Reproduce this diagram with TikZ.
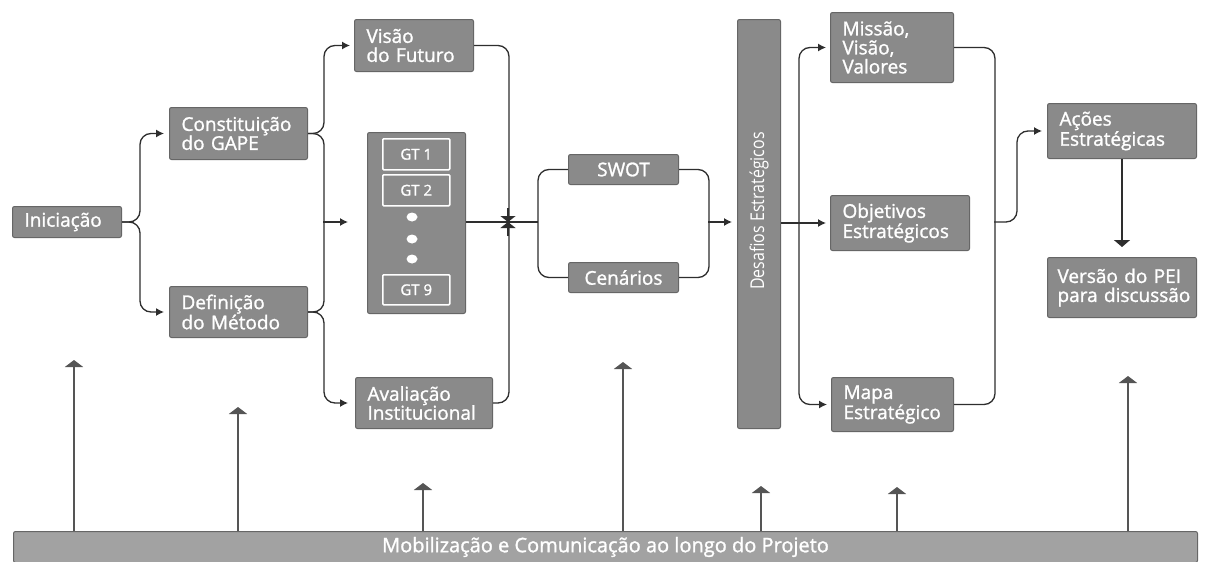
\documentclass[tikz,border=0pt]{standalone}
\usepackage{fontspec}
\setmainfont{Open Sans}[FakeBold=1.3]
\newfontfamily\narrowfont[FakeStretch=0.84]{Open Sans}
\usetikzlibrary{arrows.meta}
\definecolor{boxfill}{HTML}{8A8A8A}
\definecolor{boxedge}{HTML}{666666}
\definecolor{barfill}{HTML}{A2A2A2}
\definecolor{wire}{HTML}{2E2E2E}
\definecolor{upwire}{HTML}{555555}

\begin{document}
\begin{tikzpicture}[x=1pt,y=-1pt,
  box/.style={draw=boxedge, fill=boxfill, line width=1pt, rounded corners=2pt,
    text=white, font=\fontsize{19}{19}\selectfont, anchor=north west,
    inner xsep=12pt, inner ysep=0pt, align=left},
  gtcell/.style={draw=white, fill=boxfill, line width=1.5pt, rounded corners=1pt,
    text=white, font=\fontsize{15}{16}\selectfont, anchor=north west,
    minimum width=67pt, minimum height=31pt, inner sep=0pt},
  conn/.style={draw=wire, line width=1.3pt, rounded corners=11pt},
  tip/.style={-{Latex[length=8pt,width=8pt]}},
  meet/.style={draw=wire, line width=1.3pt, -{Triangle[width=15pt,length=6pt]}},
  up/.style={draw=upwire, line width=1.8pt, -{Triangle[width=18pt,length=7pt]}},
]
\useasboundingbox (0,0) rectangle (1207,562);
\fill[white] (0,0) rectangle (1207,562);

% ---- stage boxes ----
\node[box, minimum height=31pt, text width=85pt] (init) at (12,206) {Iniciação};
\node[box, minimum height=52pt, text width=114pt] (gape) at (169,107) {\mbox{Constituição}\\\mbox{do GAPE}};
\node[box, minimum height=51pt, text width=114pt] (metodo) at (169,286) {\mbox{Definição}\\\mbox{do Método}};
\node[box, minimum height=52pt, text width=95pt] (futuro) at (354,19) {\mbox{Visão}\\\mbox{do Futuro}};
\node[box, minimum height=51pt, text width=113pt] (aval) at (355,377) {\mbox{Avaliação}\\\mbox{Institucional}};

% working groups
\node[box, minimum width=98pt, minimum height=181pt, inner xsep=0pt] (gtbox) at (367,132) {};
\node[gtcell] (gt1) at (382,138) {GT 1};
\node[gtcell] (gt2) at (382,174) {GT 2};
\node[gtcell, minimum height=30pt] (gt9) at (382,274) {GT 9};
\fill[white] (412,217) ellipse [x radius=5.5pt, y radius=4.5pt];
\fill[white] (412,239) ellipse [x radius=5.5pt, y radius=4.5pt];
\fill[white] (412,259) ellipse [x radius=5.5pt, y radius=4.5pt];

\node[box, minimum width=110pt, minimum height=30pt, inner xsep=0pt, align=center] (swot) at (568,154) {SWOT};
\node[box, minimum width=110pt, minimum height=30pt, inner xsep=0pt, align=center] (cen) at (568,262) {Cenários};

\node[box, minimum width=43pt, minimum height=409pt, inner xsep=0pt] (desafios) at (737,19) {};
\node[rotate=90, text=white, inner sep=0pt, font=\narrowfont\fontsize{19}{19}\selectfont] (desafiostxt) at (759,211) {Desafios Estratégicos};

\node[box, minimum height=70pt, text width=99pt] (missao) at (830,12) {Missão,\\Visão,\\Valores};
\node[box, minimum height=55pt, text width=115pt] (obj) at (830,195) {\mbox{Objetivos}\\\mbox{Estratégicos}};
\node[box, minimum height=54pt, text width=98pt] (mapa) at (831,377) {\mbox{Mapa}\\\mbox{Estratégico}};
\node[box, minimum height=55pt, text width=125pt] (acoes) at (1047,103) {\mbox{Ações}\\\mbox{Estratégicas}};
\node[box, minimum height=60pt, inner xsep=10pt, text width=129pt] (versao) at (1047,257) {\mbox{Versão do PEI}\\\mbox{para discussão}};

\node[box, fill=barfill, minimum width=1184pt, minimum height=31pt, inner xsep=0pt, align=center,
      font=\fontsize{20}{21}\selectfont] (bar) at (13,531) {Mobilização e Comunicação ao longo do Projeto};

% ---- connectors ----
\draw[conn, tip, shorten >=5pt] (init.east) -- ++(18,0) |- (gape.west);
\draw[conn, tip, shorten >=5pt] (init.east) -- ++(18,0) |- (metodo.west);

\draw[conn, tip, shorten >=4pt] (gape.east) -- ++(16,0) |- (futuro.west);
\draw[conn] (gape.east) -- ++(16,0) |- (metodo.east);
\draw[conn, tip, shorten >=7pt] (metodo.east) -- ++(16,0) |- (aval.west);
\coordinate (j1) at (323,222);
\draw[conn, tip, shorten >=19pt] (j1) -- (j1 -| gtbox.west);

\draw[conn] (futuro.east) -- ++(35,0) |- (aval.east);
\coordinate (j2) at (508,222);
\draw[meet] ([yshift=14pt]j2) -- (j2);
\draw[meet] ([yshift=-14pt]j2) -- (j2);
\coordinate (j3) at (538,222);
\draw[conn] (j2 -| gtbox.east) -- (j3);
\draw[conn] (swot.west) -- ++(-30,0) |- (cen.west);
\draw[conn] (swot.east) -- ++(30,0) |- (cen.east);
\coordinate (j4) at (708,222);
\draw[conn, tip, shorten >=5pt] (j4) -- (j4 -| desafios.west);

\coordinate (j5) at (799,222.5);
\draw[conn, tip, shorten >=4pt] (desafios.east |- obj.west) -- (obj.west);
\draw[conn, tip, shorten >=4pt] (j5) |- (missao.west);
\draw[conn, tip, shorten >=4pt] (j5) |- (mapa.west);

\draw[conn] (missao.east) -- ++(41,0) |- (mapa.east);
\coordinate (j6) at (994,222);
\draw[conn, tip, shorten >=5pt] (j6) -- ++(23,0) |- (acoes.west);
\draw[conn, -{Triangle[width=16pt,length=7pt]}, shorten >=10pt] (acoes.south) -- (versao.north);

% ---- support arrows rising from the communication bar ----
\foreach \x/\t [count=\i] in {74/360, 238/407, 423/483, 623/362, 761/486, 897/487, 1128/376} {
  \coordinate (u\i) at (\x,\t);
  \draw[up] (u\i |- bar.north) -- (u\i);
}
\end{tikzpicture}
\end{document}
